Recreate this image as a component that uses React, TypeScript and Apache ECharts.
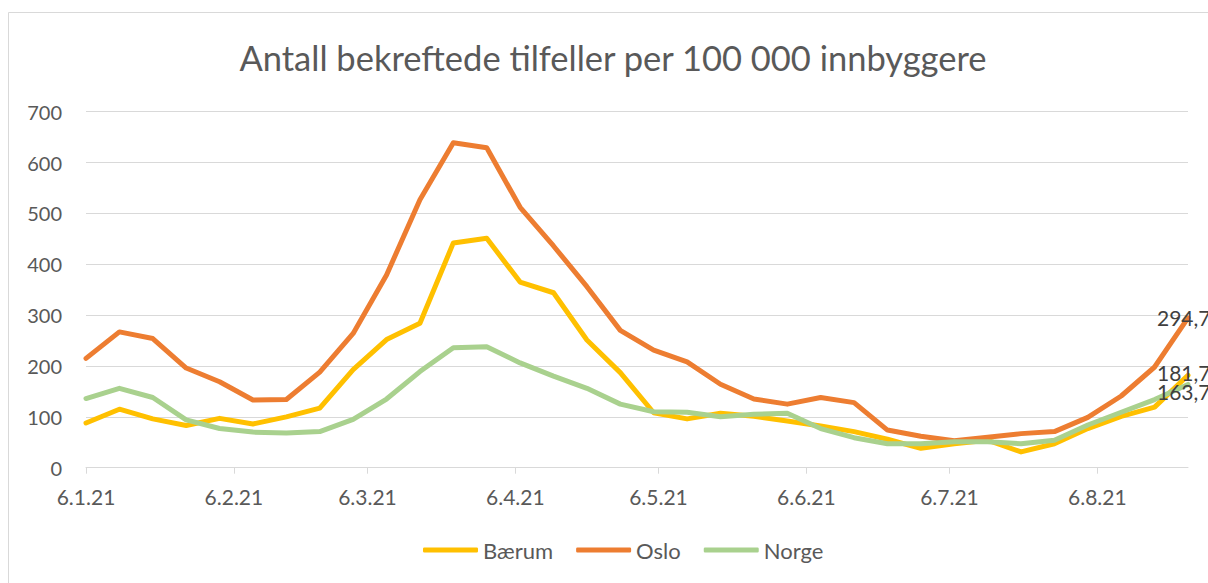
import React, { useEffect, useRef } from "react";
import * as echarts from "echarts";

// Day offsets (from 6.1.21) where month tick labels sit
const tickDays = [0, 31, 59, 90, 120, 151, 181, 212];
const tickLabels = ["6.1.21", "6.2.21", "6.3.21", "6.4.21", "6.5.21", "6.6.21", "6.7.21", "6.8.21"];

// Weekly observations, first at 6.1.21
const weekDays = [
  0, 7, 14, 21, 28, 35, 42, 49, 56, 63, 70, 77, 84, 91, 98, 105, 112,
  119, 126, 133, 140, 147, 154, 161, 168, 175, 182, 189, 196, 203, 210, 217, 224, 231,
];

const baerum = [
  88, 115, 96, 83, 97, 86, 100, 117, 193, 252, 284, 442, 451, 365, 344, 251, 187,
  108, 96, 107, 101, 92, 82, 71, 56, 38, 47, 54, 31, 47, 77, 101, 119, 181.7,
];
const oslo = [
  215, 267, 254, 196, 169, 133, 134, 188, 264, 379, 527, 639, 629, 512, 436, 356, 270,
  231, 208, 164, 135, 125, 138, 128, 74, 62, 53, 60, 67, 71, 99, 141, 198, 294.7,
];
const norge = [
  136, 156, 138, 94, 77, 70, 68, 71, 95, 135, 189, 236, 238, 206, 180, 156, 125,
  110, 109, 100, 105, 107, 77, 59, 47, 47, 51, 51, 47, 54, 84, 109, 134, 163.7,
];

const seriesNames = ["Bærum", "Oslo", "Norge"];
const seriesColors = ["#FFC000", "#ED7D31", "#A9D18E"];
const FONT = "Lato, 'Noto Sans', sans-serif";

export default function App() {
  const ref = useRef<HTMLDivElement>(null);
  useEffect(() => {
    if (!ref.current) return;
    const chart = echarts.init(ref.current, undefined, { renderer: "svg" });
    const allValues = [baerum, oslo, norge];
    const offsets = [[-31, -3], [-31, 0], [-31, 7]];
    chart.setOption({
      animation: false,
      backgroundColor: "#ffffff",
      title: {
        text: "Antall bekreftede tilfeller per 100 000 innbyggere",
        left: 608,
        textAlign: "center",
        top: 35,
        textStyle: { fontFamily: FONT, fontSize: 34.5, fontWeight: "normal", color: "#595959" },
      },
      graphic: [
        {
          type: "rect",
          silent: true,
          shape: { x: 8.5, y: 12.5, width: 1400, height: 800 },
          style: { fill: "none", stroke: "#d9d9d9", lineWidth: 1 },
          z: -10,
        },
      ],
      legend: {
        top: 534,
        left: 418,
        itemWidth: 55,
        itemHeight: 5,
        itemGap: 23,
        icon: "roundRect",
        data: seriesNames,
        textStyle: { fontFamily: FONT, fontSize: 22, color: "#595959" },
      },
      grid: { left: 86, right: 20, top: 111.7, bottom: 115.3, containLabel: false },
      xAxis: {
        type: "value",
        min: 0,
        max: 231,
        axisLine: { show: true, lineStyle: { color: "#d9d9d9", width: 1 } },
        axisTick: { show: true, length: 6, customValues: tickDays, lineStyle: { color: "#d9d9d9" } },
        splitLine: { show: false },
        axisLabel: {
          customValues: tickDays,
          margin: 18,
          color: "#595959",
          fontSize: 21,
          fontFamily: FONT,
          formatter: (v: number) => tickLabels[tickDays.indexOf(v)] ?? "",
        },
      },
      yAxis: {
        type: "value",
        min: 0,
        max: 700,
        interval: 100,
        axisLine: { show: false },
        axisTick: { show: false },
        splitLine: { lineStyle: { color: "#d9d9d9", width: 1 } },
        axisLabel: { margin: 24, color: "#595959", fontSize: 20, fontFamily: FONT },
      },
      series: seriesNames.map((name, k) => ({
        name,
        type: "line",
        data: allValues[k].map((v, i) => [weekDays[i], v]),
        symbol: "none",
        showSymbol: false,
        color: seriesColors[k],
        lineStyle: { width: 5, color: seriesColors[k], cap: "round", join: "round" },
        emphasis: { disabled: true },
        endLabel: {
          show: true,
          distance: 0,
          offset: offsets[k],
          formatter: (p: any) => Number(p.value[1]).toFixed(1).replace(".", ","),
          color: "#404040",
          fontSize: 21,
          fontFamily: FONT,
        },
      })),
    });
    return () => chart.dispose();
  }, []);
  return (
    <div
      ref={ref}
      style={{ position: "fixed", left: 0, top: 0, width: 1208, height: 583 }}
    />
  );
}
